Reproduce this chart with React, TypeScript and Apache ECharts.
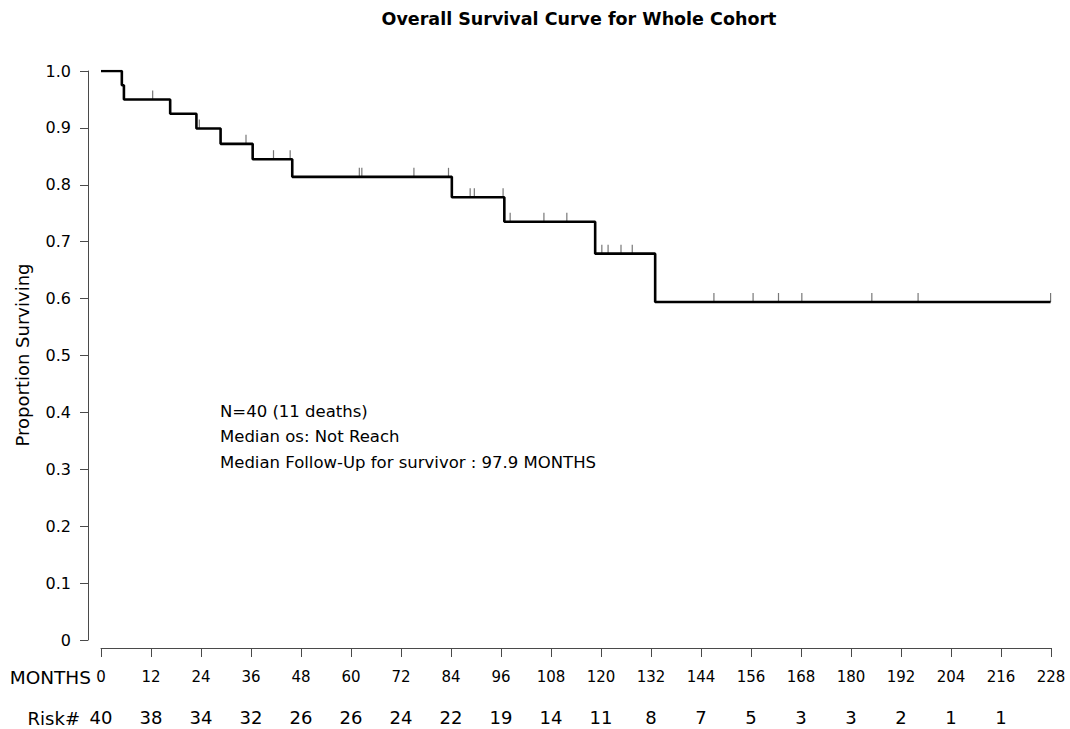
import React, { useEffect, useRef } from "react";
import * as echarts from "echarts";

// Kaplan-Meier step curve
const eventTimes = [0, 5, 5.5, 16.6, 22.9, 28.7, 36.4, 45.9, 84.2, 96.8, 118.6, 133.0];
const survival = [1, 0.975, 0.95, 0.925, 0.899, 0.872, 0.845, 0.814, 0.778, 0.735, 0.679, 0.594];
const lastFollowUp = 227.9;

// censoring marks (months)
const censorTimes = [
  12.4, 23.6, 34.8, 41.4, 45.4, 62.0, 62.6, 75.1, 83.4, 88.6, 89.6, 96.5, 98.2,
  106.3, 111.8, 120.2, 121.7, 124.8, 127.5, 147.1, 156.5, 162.6, 168.2, 185.0,
  196.1, 227.9,
];

const monthTicks = [0, 12, 24, 36, 48, 60, 72, 84, 96, 108, 120, 132, 144, 156, 168, 180, 192, 204, 216, 228];
const riskNumbers = [40, 38, 34, 32, 26, 26, 24, 22, 19, 14, 11, 8, 7, 5, 3, 3, 2, 1, 1];

const titleText = "Overall Survival Curve for Whole Cohort";
const annotationLines = [
  "N=40 (11 deaths)",
  "Median os: Not Reach",
  "Median Follow-Up for survivor : 97.9 MONTHS",
];

const FONT = "'DejaVu Sans', 'Liberation Sans', Arial, sans-serif";

function levelAt(t: number): number {
  let s = survival[0];
  for (let i = 0; i < eventTimes.length; i++) {
    if (eventTimes[i] <= t) s = survival[i];
  }
  return s;
}

export default function App() {
  const ref = useRef<HTMLDivElement>(null);

  useEffect(() => {
    document.body.style.margin = "0";
    if (!ref.current) return;
    const chart = echarts.init(ref.current, undefined, { renderer: "svg" });

    const curve = eventTimes.map((t, i) => [t, survival[i]]);
    curve.push([lastFollowUp, survival[survival.length - 1]]);
    const censors = censorTimes.map((t) => [t, levelAt(t)]);

    const axisColor = "#4a4a4a";

    chart.setOption({
      animation: false,
      backgroundColor: "#ffffff",
      title: {
        text: titleText,
        left: 579,
        top: 10,
        padding: 0,
        textAlign: "center",
        textStyle: { fontFamily: FONT, fontSize: 17.5, fontWeight: "bold", color: "#000" },
      },
      grid: { left: 101, right: 19, top: 71, bottom: 89, containLabel: false },
      xAxis: [
        {
          type: "value",
          min: 0,
          max: 228,
          interval: 12,
          offset: 8,
          position: "bottom",
          axisLine: { show: true, onZero: false, lineStyle: { color: axisColor, width: 1 } },
          axisTick: { show: true, length: 9, lineStyle: { color: axisColor, width: 1 } },
          axisLabel: {
            margin: 21,
            fontSize: 15,
            fontFamily: FONT,
            color: "#000",
            showMinLabel: true,
            showMaxLabel: true,
          },
          splitLine: { show: false },
        },
        {
          type: "value",
          min: 0,
          max: 228,
          interval: 12,
          offset: 8,
          position: "bottom",
          axisLine: { show: false, onZero: false },
          axisTick: { show: false },
          axisLabel: {
            margin: 60,
            fontSize: 18,
            fontFamily: FONT,
            color: "#000",
            showMinLabel: true,
            showMaxLabel: true,
            formatter: (v: number) => {
              const idx = monthTicks.indexOf(Math.round(v));
              return idx >= 0 && idx < riskNumbers.length ? String(riskNumbers[idx]) : "";
            },
          },
          splitLine: { show: false },
        },
      ],
      yAxis: {
        type: "value",
        min: 0,
        max: 1,
        interval: 0.1,
        offset: 13,
        axisLine: { show: true, onZero: false, lineStyle: { color: axisColor, width: 1 } },
        axisTick: { show: true, length: 8, lineStyle: { color: axisColor, width: 1 } },
        axisLabel: {
          margin: 17,
          fontSize: 16,
          fontFamily: FONT,
          color: "#000",
          formatter: (v: number) => (Math.abs(v) < 1e-9 ? "0" : v.toFixed(1)),
        },
        splitLine: { show: false },
      },
      graphic: [
        {
          type: "text",
          x: 22,
          y: 355,
          rotation: Math.PI / 2,
          style: {
            text: "Proportion Surviving",
            fontFamily: FONT,
            fontSize: 18,
            fill: "#000",
            textAlign: "center",
            textVerticalAlign: "middle",
          },
        },
        {
          type: "text",
          x: 91,
          y: 677,
          style: {
            text: "MONTHS",
            fontFamily: FONT,
            fontSize: 18.5,
            fill: "#000",
            textAlign: "right",
            textVerticalAlign: "middle",
          },
        },
        {
          type: "text",
          x: 80,
          y: 718,
          style: {
            text: "Risk#",
            fontFamily: FONT,
            fontSize: 18,
            fill: "#000",
            textAlign: "right",
            textVerticalAlign: "middle",
          },
        },
        ...annotationLines.map((line, i) => ({
          type: "text",
          x: 220,
          y: 411 + i * 25.5,
          style: {
            text: line,
            fontFamily: FONT,
            fontSize: 16.5,
            fill: "#000",
            textAlign: "left",
            textVerticalAlign: "middle",
          },
        })),
      ],
      series: [
        {
          type: "line",
          step: "end",
          data: curve,
          symbol: "none",
          lineStyle: { color: "#000", width: 2.6 },
          silent: true,
          z: 3,
        },
        {
          type: "scatter",
          data: censors,
          symbol: "rect",
          symbolSize: [1.2, 9],
          symbolOffset: [0, -4.5],
          itemStyle: { color: "#555" },
          silent: true,
          z: 2,
        },
      ],
    });

    return () => chart.dispose();
  }, []);

  return (
    <div
      ref={ref}
      style={{ position: "absolute", left: 0, top: 0, width: 1070, height: 729 }}
    />
  );
}
